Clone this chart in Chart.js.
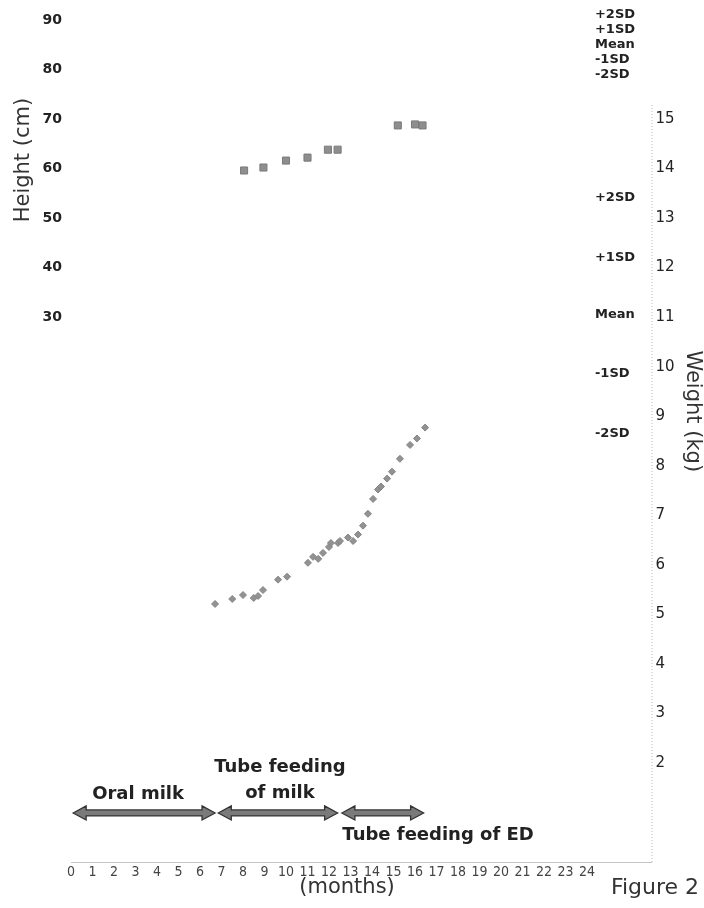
<!DOCTYPE html>
<html>
<head>
<meta charset="utf-8">
<script src="https://cdn.jsdelivr.net/npm/chart.js@4.4.1/dist/chart.umd.min.js"></script>
<style>
  html, body { margin: 0; padding: 0; background: #fff; }
  canvas { display: block; }
</style>
</head>
<body>
<canvas id="growthChart" width="704" height="908"></canvas>
<script>
// Height measurements (grey squares)
const heightMonths = [8.05, 8.95, 10.0, 11.0, 11.95, 12.4, 15.2, 16.0, 16.35];
const heightCm = [59.6, 60.2, 61.6, 62.2, 63.8, 63.8, 68.7, 68.9, 68.7];

// Weight measurements (small grey diamonds)
const weightMonths = [6.7, 7.5, 8.0, 8.5, 8.7, 8.93, 9.63, 10.05, 11.02, 11.26, 11.5, 11.72, 12.0, 12.09,
    12.42, 12.51, 12.88, 13.12, 13.35, 13.58, 13.81, 14.05, 14.28, 14.42, 14.7, 14.93, 15.3, 15.77, 16.09, 16.47];
const weightKg = [5.21, 5.31, 5.39, 5.33, 5.37, 5.49, 5.7, 5.76, 6.04, 6.16, 6.12, 6.24, 6.36, 6.44,
    6.44, 6.48, 6.55, 6.48, 6.61, 6.79, 7.03, 7.33, 7.52, 7.58, 7.74, 7.88, 8.14, 8.42, 8.55, 8.77];

// Tick labels
const monthTicks = [0, 1, 2, 3, 4, 5, 6, 7, 8, 9, 10, 11, 12, 13, 14, 15, 16, 17, 18, 19, 20, 21, 22, 23, 24];
const heightTicks = [30, 40, 50, 60, 70, 80, 90];
const weightTicks = [2, 3, 4, 5, 6, 7, 8, 9, 10, 11, 12, 13, 14, 15];

// Reference curve names and where they end at 24 months
const sdNames = ['+2SD', '+1SD', 'Mean', '-1SD', '-2SD'];
const heightSdAt24 = [91, 88, 85, 82, 79];
const weightSdAt24 = [13.42, 12.2, 11.06, 9.86, 8.65];

// Feeding periods (months)
const phaseNames = [['Oral milk'], ['Tube feeding', 'of milk'], ['Tube feeding of ED']];
const phaseStart = [0.1, 6.85, 12.6];
const phaseEnd = [6.7, 12.4, 16.4];

const FONT = '"DejaVu Sans", "Liberation Sans", Arial, sans-serif';
Chart.defaults.font.family = FONT;
Chart.defaults.color = '#222';

// where the phase labels sit: x in months, y in kg on the weight scale
const phaseLabelPos = [
    { x: 3.12, y: [1.37], align: 'center' },
    { x: 9.72, y: [1.92, 1.39], align: 'center' },
    { x: 12.62, y: [0.545], align: 'left' }
];

function drawArrow(ctx, x1, x2, y) {
    const head = 13, hh = 7, sh = 3;
    ctx.beginPath();
    ctx.moveTo(x1, y);
    ctx.lineTo(x1 + head, y - hh);
    ctx.lineTo(x1 + head, y - sh);
    ctx.lineTo(x2 - head, y - sh);
    ctx.lineTo(x2 - head, y - hh);
    ctx.lineTo(x2, y);
    ctx.lineTo(x2 - head, y + hh);
    ctx.lineTo(x2 - head, y + sh);
    ctx.lineTo(x1 + head, y + sh);
    ctx.lineTo(x1 + head, y + hh);
    ctx.closePath();
    ctx.fillStyle = '#7a7a7a';
    ctx.fill();
    ctx.strokeStyle = '#333';
    ctx.lineWidth = 1.3;
    ctx.stroke();
}

const overlay = {
    id: 'overlay',
    afterDraw(chart) {
        const { ctx, chartArea } = chart;
        const x = chart.scales.x, yW = chart.scales.yW, yH = chart.scales.yH;
        ctx.save();

        // dotted weight axis line
        ctx.strokeStyle = '#b8b8b8';
        ctx.lineWidth = 1;
        ctx.setLineDash([1, 2]);
        ctx.beginPath();
        ctx.moveTo(chartArea.right + 0.5, yW.getPixelForValue(0));
        ctx.lineTo(chartArea.right + 0.5, yW.getPixelForValue(15.3));
        ctx.stroke();
        ctx.setLineDash([]);

        // feeding period arrows
        phaseStart.forEach((s, i) => {
            drawArrow(ctx, x.getPixelForValue(s), x.getPixelForValue(phaseEnd[i]), yW.getPixelForValue(0.99));
        });

        ctx.fillStyle = '#222';
        ctx.textBaseline = 'middle';
        ctx.font = 'bold 18px ' + FONT;
        phaseNames.forEach((lines, i) => {
            const p = phaseLabelPos[i];
            ctx.textAlign = p.align;
            lines.forEach((t, j) => ctx.fillText(t, x.getPixelForValue(p.x), yW.getPixelForValue(p.y[j])));
        });

        // SD labels at the end of the reference curves
        ctx.textAlign = 'left';
        ctx.font = 'bold 13px ' + FONT;
        const sdX = x.getPixelForValue(24.37);
        sdNames.forEach((n, i) => {
            ctx.fillText(n, sdX, yH.getPixelForValue(heightSdAt24[i]));
            ctx.fillText(n, sdX, yW.getPixelForValue(weightSdAt24[i]));
        });

        // axis titles
        ctx.font = '21px ' + FONT;
        ctx.fillStyle = '#333';
        ctx.textAlign = 'center';
        ctx.save();
        ctx.translate(yH.left + 24, yH.getPixelForValue(61.7));
        ctx.rotate(-Math.PI / 2);
        ctx.fillText('Height (cm)', 0, 0);
        ctx.restore();
        ctx.save();
        ctx.translate(yW.right - 12, yW.getPixelForValue(9.1));
        ctx.rotate(Math.PI / 2);
        ctx.fillText('Weight (kg)', 0, 0);
        ctx.restore();

        ctx.fillText('(months)', x.getPixelForValue(12.84), chartArea.bottom + 26);
        ctx.font = '22px ' + FONT;
        ctx.fillText('Figure 2', chart.width - 49, chartArea.bottom + 26);
        ctx.restore();
    }
};

const ctx = document.getElementById('growthChart').getContext('2d');
const growthChart = new Chart(ctx, {
    type: 'scatter',
    data: {
        datasets: [{
            label: 'Height',
            data: heightMonths.map((m, i) => ({ x: m, y: heightCm[i] })),
            yAxisID: 'yH',
            pointStyle: 'rect',
            pointRadius: 5,
            backgroundColor: '#8e8e8e',
            borderColor: '#7a7a7a',
            borderWidth: 1
        }, {
            label: 'Weight',
            data: weightMonths.map((m, i) => ({ x: m, y: weightKg[i] })),
            yAxisID: 'yW',
            pointStyle: 'rectRot',
            pointRadius: 3.5,
            backgroundColor: '#929292',
            borderColor: '#858585',
            borderWidth: 1
        }]
    },
    options: {
        responsive: false,
        animation: false,
        devicePixelRatio: 1,
        layout: { padding: { top: 10, left: 0, right: 0, bottom: 0 } },
        plugins: {
            legend: { display: false },
            tooltip: { enabled: false }
        },
        scales: {
            x: {
                type: 'linear',
                min: 0,
                max: 27,
                grid: { display: false, drawTicks: false },
                border: { display: true, color: '#c4c4c4', dash: [1, 2] },
                ticks: {
                    autoSkip: false,
                    maxRotation: 0,
                    padding: 2,
                    color: '#444',
                    font: { family: '"Liberation Sans Narrow", "DejaVu Sans Condensed", sans-serif', size: 14 }
                },
                afterBuildTicks: s => { s.ticks = monthTicks.map(v => ({ value: v })); },
                afterFit: s => { s.height = 46; s.paddingLeft = 0; s.paddingRight = 0; }
            },
            yH: {
                type: 'linear',
                position: 'left',
                min: -80,
                max: 92,
                grid: { display: false, drawTicks: false },
                border: { display: false },
                ticks: { padding: 9, color: '#222', font: { size: 14, weight: 'bold' } },
                afterBuildTicks: s => { s.ticks = heightTicks.map(v => ({ value: v })); },
                afterFit: s => { s.width = 71; s.paddingTop = 0; s.paddingBottom = 0; }
            },
            yW: {
                type: 'linear',
                position: 'right',
                min: 0,
                max: 17.2,
                grid: { display: false, drawTicks: false },
                border: { display: false },
                ticks: { padding: 4, color: '#222', font: { size: 15 } },
                afterBuildTicks: s => { s.ticks = weightTicks.map(v => ({ value: v })); },
                afterFit: s => { s.width = 52.5; s.paddingTop = 0; s.paddingBottom = 0; }
            }
        }
    },
    plugins: [overlay]
});
</script>
</body>
</html>
